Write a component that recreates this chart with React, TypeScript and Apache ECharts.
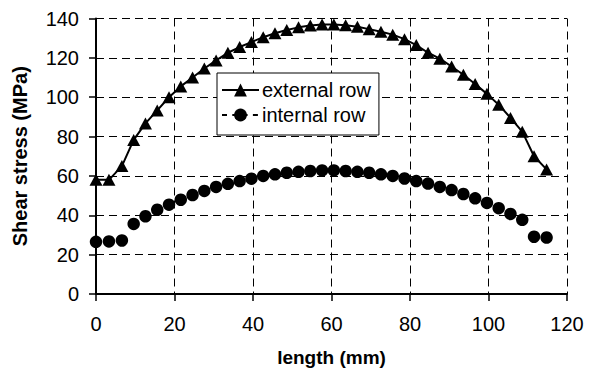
import React, { useEffect, useRef } from "react";
import * as echarts from "echarts";

// Position along the joint (mm)
const lengthMm = [
  0, 3.3, 6.6, 9.6, 12.6, 15.6, 18.6, 21.6, 24.6, 27.6, 30.6, 33.6, 36.6, 39.6,
  42.6, 45.6, 48.6, 51.6, 54.6, 57.6, 60.6, 63.6, 66.6, 69.6, 72.6, 75.6, 78.6,
  81.6, 84.6, 87.6, 90.6, 93.6, 96.6, 99.6, 102.6, 105.6, 108.6, 111.6, 114.8,
];

// Shear stress of the external row (MPa)
const externalRow = [
  58, 58, 65, 78.3, 86.7, 93.3, 100, 105.5, 110, 114.6, 118.7, 122.6, 125.5,
  128, 130.5, 132.5, 134.2, 135.5, 136.4, 137, 137, 136.6, 135.8, 134.6, 133.3,
  131.8, 129.5, 126.5, 122.6, 119.6, 115.6, 111.4, 106.7, 101.7, 96.2, 89.5,
  82.5, 70, 63.3,
];

// Shear stress of the internal row (MPa)
const internalRow = [
  26.5, 26.7, 27.2, 35.6, 39.5, 42.8, 45.4, 47.9, 50.3, 52.4, 54.4, 56, 57.4,
  58.6, 60, 60.8, 61.6, 62.1, 62.5, 62.8, 62.8, 62.5, 62.1, 61.6, 60.8, 60,
  58.7, 57.4, 56.1, 54.4, 52.8, 50.8, 48.6, 46.3, 43.6, 40.7, 37.7, 29.1, 28.7,
];

const seriesNames = ["external row", "internal row"];
const xTitle = "length (mm)";
const yTitle = "Shear stress (MPa)";

const FONT = "'Liberation Sans', Arial, sans-serif";

export default function App() {
  const ref = useRef<HTMLDivElement>(null);

  useEffect(() => {
    if (!ref.current) return;
    const chart = echarts.init(ref.current, null, { renderer: "svg" });

    const gridLine = {
      show: true,
      lineStyle: { color: "#000", width: 1, type: [8, 5] as number[] },
    };

    chart.setOption({
      animation: false,
      backgroundColor: "#fff",
      textStyle: { fontFamily: FONT, color: "#000" },
      grid: { left: 96, right: 27, top: 18.5, bottom: 74, containLabel: false },
      legend: {
        orient: "vertical",
        left: 217,
        top: 73,
        padding: [7, 8, 10, 4],
        itemGap: 5,
        itemWidth: 37,
        itemHeight: 16,
        backgroundColor: "#fff",
        borderColor: "#000",
        borderWidth: 1,
        borderRadius: 0,
        textStyle: { fontFamily: FONT, fontSize: 20, color: "#000", padding: [0, 0, 0, -2] },
        data: [
          { name: seriesNames[0], lineStyle: { color: "#000", width: 2, type: "solid", opacity: 1 } },
          { name: seriesNames[1], lineStyle: { color: "#000", width: 2, type: [5, 5.3], opacity: 1 } },
        ],
      },
      xAxis: {
        type: "value",
        min: 0,
        max: 120,
        interval: 20,
        name: xTitle,
        nameLocation: "middle",
        nameGap: 54,
        nameTextStyle: { fontFamily: FONT, fontSize: 19, fontWeight: "bold", color: "#000" },
        axisLine: { show: true, onZero: false, lineStyle: { color: "#000", width: 2 } },
        axisTick: { show: true, length: 7, lineStyle: { color: "#000", width: 1.5 } },
        axisLabel: { margin: 20, fontFamily: FONT, fontSize: 20, color: "#000" },
        splitLine: gridLine,
      },
      yAxis: {
        type: "value",
        min: 0,
        max: 140,
        interval: 20,
        name: yTitle,
        nameLocation: "middle",
        nameGap: 66,
        nameTextStyle: { fontFamily: FONT, fontSize: 20, fontWeight: "bold", color: "#000" },
        axisLine: { show: true, onZero: false, lineStyle: { color: "#000", width: 2 } },
        axisTick: { show: true, length: 7, lineStyle: { color: "#000", width: 1.5 } },
        axisLabel: { margin: 17, fontFamily: FONT, fontSize: 20, color: "#000" },
        splitLine: gridLine,
      },
      series: [
        {
          name: seriesNames[0],
          type: "line",
          data: lengthMm.map((x, i) => [x, externalRow[i]]),
          symbol: "triangle",
          symbolSize: [13, 12],
          showAllSymbol: true,
          itemStyle: { color: "#000" },
          lineStyle: { color: "#000", width: 2 },
          z: 3,
        },
        {
          name: seriesNames[1],
          type: "line",
          data: lengthMm.map((x, i) => [x, internalRow[i]]),
          symbol: "circle",
          symbolSize: 12.5,
          showAllSymbol: true,
          itemStyle: { color: "#000" },
          lineStyle: { color: "#000", width: 2, opacity: 0 },
          z: 3,
        },
      ],
    });

    return () => chart.dispose();
  }, []);

  return (
    <div
      ref={ref}
      style={{ position: "absolute", left: 0, top: 0, width: 594, height: 372 }}
    />
  );
}
